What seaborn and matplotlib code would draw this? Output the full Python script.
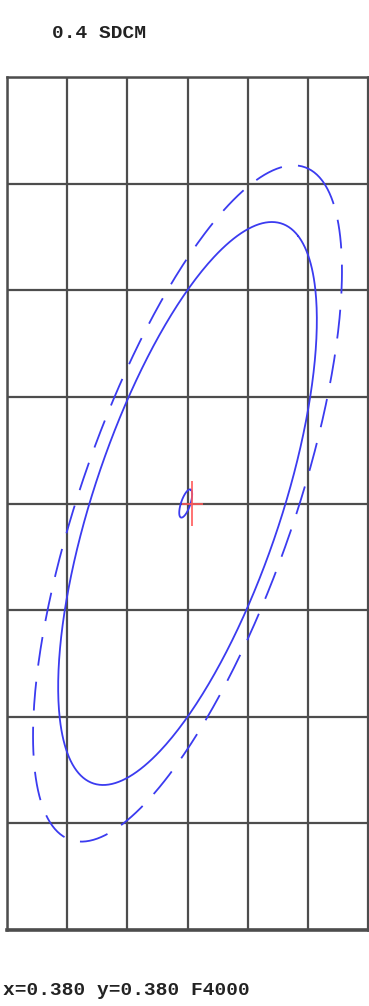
import numpy as np
import pandas as pd
import matplotlib
matplotlib.use("Agg")
import matplotlib.pyplot as plt
import seaborn as sns

# ---- data (chromaticity units) ----
title_text = "0.4 SDCM"
footer_text = "x=0.380 y=0.380 F4000"

ell_names = ["small", "solid", "dashed"]
ell_cx = [0.37997, 0.38000, 0.38000]
ell_cy = [0.38000, 0.38000, 0.38000]
ell_semi_major = [0.000156, 0.003111, 0.003766]
ell_semi_minor = [0.000069, 0.001383, 0.001570]
ell_angle_deg = [53.8, 53.8, 53.6]
ell_style = ["solid", "solid", "dashed"]

cross_x = [0.38008]
cross_y = [0.38000]
cross_xerr = [0.00017]
cross_yerr = [0.00021]

x_ticks = [0.377, 0.378, 0.379, 0.380, 0.381, 0.382, 0.383]
y_ticks = [0.376, 0.377, 0.378, 0.379, 0.380, 0.381, 0.382, 0.383, 0.384]

sns.set_style("white")
plt.rcParams['font.family'] = ['Liberation Mono', 'DejaVu Sans Mono']

W, H = 369, 1006
fig = plt.figure(figsize=(W / 100, H / 100), dpi=100)
ax = fig.add_axes([7 / W, 1 - 930 / H, (368 - 7) / W, (930 - 77) / H])

t = np.linspace(0, 2 * np.pi, 400)
blue = "#3b3bf0"
for i, name in enumerate(ell_names):
    th = np.deg2rad(ell_angle_deg[i])
    a, b = ell_semi_major[i], ell_semi_minor[i]
    xs = ell_cx[i] + a * np.cos(t) * np.cos(th) - b * np.sin(t) * np.sin(th)
    ys = ell_cy[i] + a * np.cos(t) * np.sin(th) + b * np.sin(t) * np.cos(th)
    df = pd.DataFrame({"x": xs, "y": ys})
    sns.lineplot(data=df, x="x", y="y", sort=False, estimator=None, ax=ax,
                 color=blue, linewidth=1.3)
    line = ax.lines[-1]
    if ell_style[i] == "dashed":
        line.set_dashes((16, 9))

ax.errorbar(cross_x, cross_y, xerr=cross_xerr, yerr=cross_yerr, fmt="none",
            ecolor="#ff5a5a", elinewidth=1.2, capsize=0)

ax.set_xlim(x_ticks[0], x_ticks[-1])
ax.set_ylim(y_ticks[0], y_ticks[-1])
ax.set_xticks(x_ticks)
ax.set_yticks(y_ticks)
ax.set_xticklabels([])
ax.set_yticklabels([])
ax.tick_params(length=0)
ax.set_xlabel("")
ax.set_ylabel("")
ax.grid(True, color="#4d4d4d", linewidth=1.6)
ax.set_axisbelow(True)
for s in ax.spines.values():
    s.set_visible(True)
    s.set_color("#4d4d4d")
    s.set_linewidth(1.8)
ax.spines["bottom"].set_linewidth(2.6)

fig.text(52 / W, 1 - 38 / H, title_text, ha="left", va="baseline",
         fontsize=14, fontweight="bold", color="#222222")
fig.text(3 / W, 1 - 995 / H, footer_text, ha="left", va="baseline",
         fontsize=14, fontweight="bold", color="#222222")

fig.savefig("out.png", dpi=100)
